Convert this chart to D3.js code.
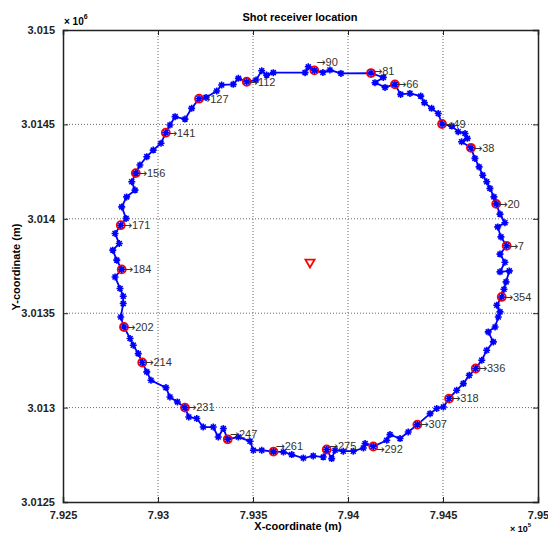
<!DOCTYPE html>
<html>
<head>
<meta charset="utf-8">
<script src="https://cdn.jsdelivr.net/npm/d3@7"></script>
<style>
  body { margin: 0; background: #fff; }
  text { font-family: Arial, "Liberation Sans", sans-serif; }
</style>
</head>
<body>
<div id="chart"></div>
<script>
// Receiver line (metres), in shooting order round the loop
const pathX = [794832, 794849, 794800, 794826, 794800, 794835, 794805, 794788, 794826, 794800,
               794780, 794768, 794747, 794730, 794709, 794690, 794668, 794647, 794598, 794628,
               794616, 794580, 794546, 794495, 794475, 794440, 794402, 794383, 794326, 794277,
               794247, 794195, 794142, 794186, 794121, 793963, 793905, 793868, 793823, 793791,
               793774, 793607, 793572, 793546, 793516, 793467, 793423, 793396, 793335, 793309,
               793253, 793216, 793177, 793142, 793090, 793063, 793041, 793016, 792975, 792941,
               792905, 792883, 792862, 792879, 792835, 792809, 792832, 792804, 792774, 792796,
               792762, 792783, 792809, 792774, 792800, 792817, 792817, 792804, 792821, 792853,
               792870, 792896, 792917, 792941, 792963, 793042, 793063, 793102, 793142, 793162,
               793204, 793238, 793291, 793317, 793344, 793367, 793423, 793484, 793502, 793546,
               793608, 793660, 793704, 793765, 793817, 793870, 793888, 793914, 793932, 793975,
               794028, 794081, 794090, 794133, 794204, 794221, 794274, 794317, 794365, 794432,
               794467, 794502, 794532, 794572, 794607, 794638, 794672, 794704, 794730, 794765,
               794738, 794774, 794791, 794800, 794783, 794809, 794821];
const pathY = [3013666, 3013724, 3013719, 3013770, 3013813, 3013857, 3013904, 3013957, 3013979, 3014025,
               3014079, 3014116, 3014161, 3014196, 3014231, 3014275, 3014320, 3014376, 3014408, 3014426,
               3014452, 3014461, 3014491, 3014502, 3014558, 3014585, 3014615, 3014650, 3014664, 3014659,
               3014712, 3014696, 3014721, 3014749, 3014772, 3014770, 3014788, 3014775, 3014786, 3014805,
               3014774, 3014774, 3014761, 3014784, 3014735, 3014726, 3014744, 3014712, 3014709, 3014677,
               3014643, 3014636, 3014585, 3014528, 3014541, 3014497, 3014456, 3014400, 3014364, 3014329,
               3014285, 3014242, 3014196, 3014152, 3014116, 3014063, 3014002, 3013966, 3013922, 3013869,
               3013834, 3013781, 3013732, 3013692, 3013631, 3013590, 3013551, 3013480, 3013427, 3013366,
               3013330, 3013286, 3013239, 3013189, 3013145, 3013106, 3013056, 3013030, 3013000, 3012950,
               3012942, 3012897, 3012897, 3012844, 3012889, 3012832, 3012844, 3012822, 3012774, 3012774,
               3012767, 3012765, 3012751, 3012733, 3012744, 3012738, 3012778, 3012730, 3012774, 3012769,
               3012769, 3012786, 3012810, 3012794, 3012827, 3012857, 3012836, 3012871, 3012910, 3012968,
               3012995, 3013003, 3013048, 3013092, 3013127, 3013171, 3013207, 3013251, 3013304, 3013348,
               3013401, 3013427, 3013480, 3013507, 3013542, 3013586, 3013627];

// Labelled receivers
const labelIds = [7, 20, 38, 49, 66, 81, 90, 112, 127, 141, 156, 171,
                  184, 202, 214, 231, 247, 261, 275, 292, 307, 318, 336, 354];
const labelX = [794835, 794780, 794647, 794495, 794247, 794121, 793823, 793467, 793216, 793041, 792883, 792804,
                792809, 792821, 792917, 793142, 793367, 793608, 793888, 794133, 794365, 794532, 794672, 794809];
const labelY = [3013857, 3014079, 3014376, 3014502, 3014712, 3014772, 3014786, 3014726, 3014636, 3014456, 3014242, 3013966,
                3013732, 3013427, 3013239, 3013000, 3012832, 3012767, 3012778, 3012794, 3012910, 3013048, 3013207, 3013586];

// Shot point
const shotX = [793800];
const shotY = [3013770];

// Axis ticks
const xTicks = [792500, 793000, 793500, 794000, 794500, 795000];
const xTickLabels = ["7.925", "7.93", "7.935", "7.94", "7.945", "7.95"];
const yTicks = [3012500, 3013000, 3013500, 3014000, 3014500, 3015000];
const yTickLabels = ["3.0125", "3.013", "3.0135", "3.014", "3.0145", "3.015"];

const width = 548;
const height = 533;
const margin = {top: 30, right: 10, bottom: 31, left: 63};
const innerW = width - margin.left - margin.right;
const innerH = height - margin.top - margin.bottom;

// small vertical nudges for a few labels that sit above their receiver
const labelNudge = {81: -2, 90: -8, 247: -5, 261: -5, 275: -3, 292: 3};

const svg = d3.select("#chart")
    .append("svg")
        .attr("width", width)
        .attr("height", height);

const x = d3.scaleLinear().domain([792500, 795000]).range([0, innerW]);
const y = d3.scaleLinear().domain([3012500, 3015000]).range([innerH, 0]);

const g = svg.append("g").attr("transform", `translate(${margin.left},${margin.top})`);

// dotted grid
g.append("g").selectAll("line")
    .data(xTicks.slice(1, -1))
    .join("line")
        .attr("x1", d => x(d)).attr("x2", d => x(d))
        .attr("y1", 0).attr("y2", innerH)
        .attr("stroke", "#666").attr("stroke-width", 1)
        .attr("stroke-dasharray", "1,2");
g.append("g").selectAll("line")
    .data(yTicks.slice(1, -1))
    .join("line")
        .attr("y1", d => y(d)).attr("y2", d => y(d))
        .attr("x1", 0).attr("x2", innerW)
        .attr("stroke", "#666").attr("stroke-width", 1)
        .attr("stroke-dasharray", "1,2");

// axes, ticks pointing inwards on all four sides
const fmtX = (d, i) => xTickLabels[i];
const fmtY = (d, i) => yTickLabels[i];
const axes = [
    g.append("g").attr("transform", `translate(0,${innerH})`)
        .call(d3.axisBottom(x).tickValues(xTicks).tickFormat(fmtX).tickSize(-5).tickPadding(9)),
    g.append("g")
        .call(d3.axisTop(x).tickValues(xTicks).tickFormat("").tickSize(-5)),
    g.append("g")
        .call(d3.axisLeft(y).tickValues(yTicks).tickFormat(fmtY).tickSize(-5).tickPadding(8)),
    g.append("g").attr("transform", `translate(${innerW},0)`)
        .call(d3.axisRight(y).tickValues(yTicks).tickFormat("").tickSize(-5))
];
axes.forEach(a => {
    a.select(".domain").attr("stroke", "#222").attr("stroke-width", 1.5);
    a.selectAll(".tick line").attr("stroke", "#222");
    a.selectAll("text")
        .attr("font-size", 11)
        .attr("font-weight", "bold")
        .attr("fill", "#222");
});

// receiver line
const line = d3.line()
    .x(d => x(d[0]))
    .y(d => y(d[1]))
    .curve(d3.curveLinearClosed);
const pts = pathX.map((v, i) => [v, pathY[i]]);

g.append("path")
    .datum(pts)
    .attr("d", line)
    .attr("fill", "none")
    .attr("stroke", "#0000ff")
    .attr("stroke-width", 1.8);

// red circles at labelled receivers
g.append("g").selectAll("circle")
    .data(labelIds)
    .join("circle")
        .attr("cx", (d, i) => x(labelX[i]))
        .attr("cy", (d, i) => y(labelY[i]))
        .attr("r", 4)
        .attr("fill", "none")
        .attr("stroke", "#ff0000")
        .attr("stroke-width", 1.8);

// asterisk markers
const star = "M-3.5,0H3.5M0,-3.5V3.5M-2.5,-2.5L2.5,2.5M-2.5,2.5L2.5,-2.5";
g.append("g").selectAll("path")
    .data(pts)
    .join("path")
        .attr("transform", d => `translate(${x(d[0])},${y(d[1])})`)
        .attr("d", star)
        .attr("stroke", "#0000ff")
        .attr("stroke-width", 1.6)
        .attr("fill", "none");

// labels: arrow then receiver number
const labels = g.append("g").selectAll("text")
    .data(labelIds)
    .join("text")
        .attr("x", (d, i) => x(labelX[i]) + 2)
        .attr("y", (d, i) => y(labelY[i]) + (labelNudge[d] || 0))
        .attr("dy", "0.35em")
        .attr("font-size", 11)
        .attr("fill", "#333");
labels.append("tspan")
    .attr("font-family", "'DejaVu Sans', sans-serif")
    .attr("font-size", 11)
    .text("\u2192");
labels.append("tspan")
    .text(d => d);

// shot location
const tri = d3.symbol().type(d3.symbolTriangle).size(36);
g.append("path")
    .attr("d", tri)
    .attr("transform", `translate(${x(shotX[0])},${y(shotY[0])}) rotate(180)`)
    .attr("fill", "none")
    .attr("stroke", "#ff0000")
    .attr("stroke-width", 1.8);

// titles
svg.append("text")
    .attr("x", 300).attr("y", 21)
    .attr("text-anchor", "middle")
    .attr("font-size", 11).attr("font-weight", "bold")
    .text("Shot receiver location");
svg.append("text")
    .attr("x", 298).attr("y", 530)
    .attr("text-anchor", "middle")
    .attr("font-size", 11).attr("font-weight", "bold")
    .text("X-coordinate (m)");
svg.append("text")
    .attr("transform", "translate(20,267) rotate(-90)")
    .attr("text-anchor", "middle")
    .attr("font-size", 11).attr("font-weight", "bold")
    .text("Y-coordinate (m)");

// exponent notes
const e6 = svg.append("text").attr("x", 64).attr("y", 25)
    .attr("font-size", 10).attr("font-weight", "bold");
e6.append("tspan").text("\u00d7 10");
e6.append("tspan").attr("dy", -6).attr("font-size", 7).text("6");
const e5 = svg.append("text").attr("x", 510).attr("y", 532)
    .attr("font-size", 9).attr("font-weight", "bold");
e5.append("tspan").text("\u00d7 10");
e5.append("tspan").attr("dy", -5).attr("font-size", 6).text("5");
</script>
</body>
</html>
